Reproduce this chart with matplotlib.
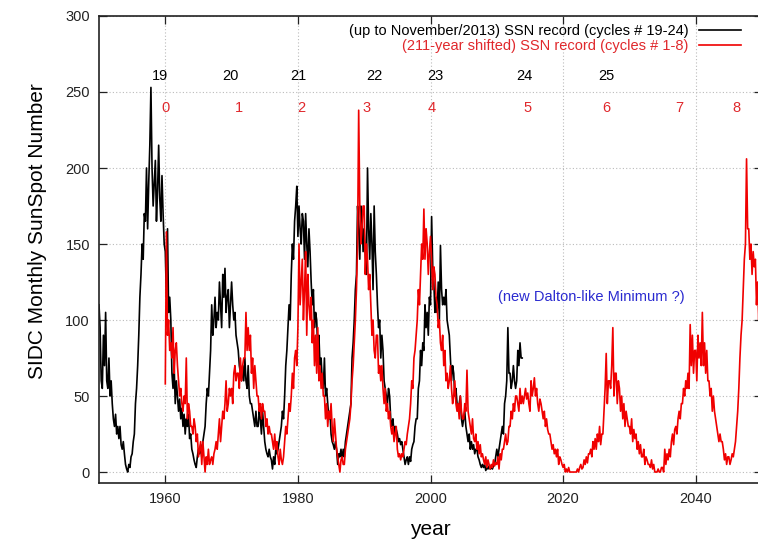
import numpy as np
import matplotlib
matplotlib.use("Agg")
import matplotlib.pyplot as plt

plt.rcParams["font.family"] = ["Liberation Sans", "DejaVu Sans"]

# SSN record 1950 - Nov 2013 (6 values per year)
ssn_black = [
    110, 95, 60, 55, 90, 70,      # 1950
    105, 60, 55, 75, 50, 60,
    45, 35, 30, 38, 25, 30,
    22, 30, 18, 15, 20, 12,
    5, 2, 0, 5, 3, 10,
    12, 20, 25, 45, 55, 70,       # 1955
    90, 115, 130, 150, 140, 170,
    165, 200, 160, 190, 215, 253,
    200, 175, 190, 205, 165, 185,
    215, 180, 165, 195, 170, 150,
    145, 115, 160, 105, 115, 100,  # 1960
    65, 55, 70, 45, 60, 50,
    40, 48, 35, 42, 30, 38,
    25, 35, 30, 38, 22, 25,
    15, 12, 8, 5, 3, 10,
    15, 12, 18, 10, 20, 25,       # 1965
    30, 45, 55, 50, 65, 80,
    110, 90, 100, 115, 95, 105,
    100, 125, 110, 95, 130, 115,
    134, 105, 115, 120, 95, 110,
    125, 110, 100, 105, 90, 85,   # 1970
    80, 70, 65, 60, 70, 60,
    75, 60, 55, 70, 50, 45,
    45, 40, 35, 30, 40, 30,
    30, 40, 35, 25, 40, 30,
    20, 15, 12, 10, 15, 10,       # 1975
    8, 2, 10, 5, 15, 12,
    15, 20, 25, 30, 40, 35,
    50, 70, 80, 95, 110, 100,
    130, 150, 140, 165, 175, 188,
    155, 175, 160, 150, 170, 165,  # 1980
    140, 170, 150, 135, 160, 145,
    125, 110, 120, 95, 105, 100,
    80, 90, 70, 75, 60, 55,
    75, 50, 55, 45, 35, 40,
    25, 20, 18, 15, 20, 15,       # 1985
    5, 12, 10, 15, 8, 15,
    10, 20, 25, 30, 35, 40,
    45, 75, 85, 100, 120, 130,
    175, 160, 140, 175, 170, 145,
    160, 145, 130, 200, 160, 140,  # 1990
    170, 150, 120, 175, 145, 130,
    110, 95, 100, 75, 90, 80,
    60, 55, 50, 45, 55, 50,
    35, 30, 35, 25, 30, 28,
    25, 20, 22, 18, 20, 15,       # 1995
    10, 5, 8, 10, 5, 10,
    7, 15, 18, 20, 30, 35,
    35, 55, 60, 80, 70, 85,
    80, 110, 95, 105, 90, 115,
    110, 168, 135, 125, 105, 115,  # 2000
    105, 125, 100, 149, 120, 110,
    115, 110, 120, 100, 95, 90,
    75, 60, 70, 65, 50, 55,
    45, 40, 45, 50, 35, 30,
    35, 40, 30, 25, 20, 25,       # 2005
    15, 20, 15, 18, 12, 15,
    15, 10, 8, 5, 3, 5,
    3, 5, 1, 3, 2, 4,
    2, 3, 2, 4, 5, 10,
    15, 10, 15, 20, 25, 30,       # 2010
    25, 45, 50, 60, 95, 65,
    65, 55, 60, 70, 60, 55,
    60, 80, 70, 85, 75, 75,
]

# 211-year shifted SSN record (1749 -> 1960), 6 values per year
ssn_red = [
    58, 158, 90, 100, 80, 85,     # 1960
    75, 95, 65, 80, 85, 70,
    60, 50, 55, 45, 40, 50,
    45, 75, 35, 45, 40, 30,
    30, 25, 35, 30, 20, 25,
    10, 15, 20, 5, 20, 10,        # 1965
    0, 10, 5, 15, 5, 8,
    10, 5, 12, 15, 20, 15,
    25, 35, 20, 30, 40, 35,
    45, 60, 40, 45, 55, 50,
    55, 45, 65, 70, 60, 65,       # 1970
    65, 55, 75, 60, 70, 75,
    75, 105, 80, 95, 80, 90,
    65, 75, 55, 70, 60, 50,
    50, 40, 45, 35, 45, 40,
    40, 30, 35, 25, 30, 25,       # 1975
    25, 20, 15, 25, 15, 20,
    10, 5, 15, 8, 5, 10,
    20, 30, 25, 35, 45, 40,
    50, 65, 55, 75, 80, 70,
    95, 150, 110, 125, 140, 100,  # 1980
    120, 145, 90, 130, 110, 100,
    115, 85, 100, 70, 90, 65,
    95, 60, 70, 55, 65, 50,
    50, 35, 45, 30, 40, 35,
    45, 30, 20, 35, 25, 15,       # 1985
    10, 5, 0, 8, 10, 5,
    5, 15, 20, 25, 30, 35,
    45, 60, 70, 85, 100, 120,
    150, 238, 175, 150, 160, 175,
    175, 130, 150, 140, 120, 130,  # 1990
    110, 90, 100, 80, 75, 90,
    90, 65, 70, 60, 70, 55,
    45, 55, 40, 45, 35, 40,
    30, 25, 30, 20, 25, 30,
    15, 10, 12, 8, 12, 10,        # 1995
    15, 20, 18, 25, 30, 35,
    45, 60, 55, 75, 80, 90,
    100, 120, 110, 130, 150, 140,
    173, 140, 160, 150, 130, 145,
    155, 140, 120, 135, 130, 115,  # 2000
    110, 95, 100, 85, 80, 90,
    70, 80, 60, 65, 55, 60,
    70, 55, 45, 50, 60, 45,
    40, 45, 35, 50, 40, 35,
    35, 45, 40, 67, 40, 35,       # 2005
    30, 25, 35, 22, 20, 25,
    15, 20, 12, 18, 10, 12,
    8, 5, 10, 3, 8, 5,
    2, 5, 3, 8, 4, 6,
    5, 10, 2, 12, 8, 15,          # 2010
    15, 20, 25, 18, 20, 30,
    30, 40, 35, 45, 40, 50,
    50, 45, 40, 55, 45, 50,
    45, 50, 55, 48, 52, 45,
    40, 60, 50, 55, 62, 50,       # 2015
    55, 45, 40, 48, 45, 40,
    35, 40, 30, 35, 28, 25,
    25, 20, 15, 18, 12, 15,
    10, 15, 5, 10, 8, 5,
    3, 5, 0, 2, 0, 3,             # 2020
    0, 0, 0, 0, 0, 0,
    0, 2, 0, 3, 5, 2,
    3, 8, 5, 10, 6, 12,
    12, 15, 10, 20, 15, 22,
    15, 25, 20, 30, 18, 25,       # 2025
    25, 40, 55, 78, 45, 60,
    60, 55, 70, 95, 50, 65,
    65, 45, 60, 55, 40, 50,
    35, 45, 30, 40, 35, 30,
    30, 25, 35, 20, 28, 22,       # 2030
    25, 15, 20, 12, 18, 10,
    10, 15, 5, 10, 8, 5,
    5, 3, 8, 2, 5, 0,
    0, 0, 2, 0, 0, 3,
    3, 0, 15, 5, 12, 8,           # 2035
    15, 10, 20, 25, 18, 28,
    30, 25, 35, 40, 35, 45,
    45, 55, 50, 60, 55, 65,
    55, 97, 70, 90, 65, 80,
    80, 60, 90, 75, 85, 70,       # 2040
    105, 70, 85, 65, 80, 60,
    60, 50, 55, 40, 50, 40,
    35, 30, 25, 20, 25, 20,
    20, 15, 8, 12, 5, 10,
    10, 5, 8, 12, 10, 15,         # 2045
    20, 30, 40, 55, 75, 90,
    100, 120, 140, 150, 206, 160,
    160, 140, 150, 130, 145, 135,
    140, 110, 125, 100, 130, 110,
]

black_start = 1950.0
red_start = 1960.0
t_black = black_start + np.arange(len(ssn_black)) / 6.0
t_red = red_start + np.arange(len(ssn_red)) / 6.0

black_cycles = ["19", "20", "21", "22", "23", "24", "25"]
black_cycle_x = [1959.2, 1969.8, 1980.0, 1991.5, 2000.8, 2014.1, 2026.6]
red_cycles = ["0", "1", "2", "3", "4", "5", "6", "7", "8"]
red_cycle_x = [1960.0, 1971.1, 1980.5, 1990.4, 2000.2, 2014.6, 2026.5, 2037.5, 2046.2]

fig = plt.figure(figsize=(7.58, 5.42), dpi=100)
ax = fig.add_axes([0.1306, 0.1089, 0.8747, 0.8616])

ax.plot(t_black, ssn_black, color="black", lw=1.2,
        label="(up to November/2013) SSN record (cycles # 19-24)")
ax.plot(t_red, ssn_red, color="#f00000", lw=1.2,
        label="(211-year shifted) SSN record (cycles # 1-8)")

for lab, xx in zip(black_cycles, black_cycle_x):
    ax.text(xx, 260.5, lab, color="black", fontsize=10.5, ha="center", va="center")
for lab, xx in zip(red_cycles, red_cycle_x):
    ax.text(xx, 239.5, lab, color="#e0282c", fontsize=10.5, ha="center", va="center")

ax.text(2024.2, 115, "(new Dalton-like Minimum ?)", color="#2a2ad0",
        fontsize=10.5, ha="center", va="center")

ax.set_xlim(1950, 2050)
ax.set_ylim(-7.2, 300)
ax.set_xticks([1960, 1980, 2000, 2020, 2040])
ax.set_yticks([0, 50, 100, 150, 200, 250, 300])
ax.tick_params(direction="in", length=6, width=0.9, top=True, right=True,
               labelsize=10.5, pad=6.5, colors="#222222")
ax.grid(True, linestyle=(0, (1, 2)), color="#bbbbbb", lw=0.8)
for sp in ax.spines.values():
    sp.set_color("#222222")
    sp.set_linewidth(1.2)

ax.set_ylabel("SIDC Monthly SunSpot Number", fontsize=15, va="center")
ax.yaxis.set_label_coords(-0.093, 0.54)
ax.set_xlabel("year", fontsize=15, va="center")
ax.xaxis.set_label_coords(0.499, -0.10)

leg = ax.legend(loc="upper right", bbox_to_anchor=(0.973, 0.989),
                bbox_transform=ax.transAxes, frameon=False, markerfirst=False,
                fontsize=10.5, handlelength=2.9, handletextpad=0.7,
                labelspacing=0.05, borderaxespad=0, borderpad=0.2)
leg.get_texts()[0].set_color("black")
leg.get_texts()[1].set_color("#e0282c")

fig.savefig("out.png", dpi=100)
